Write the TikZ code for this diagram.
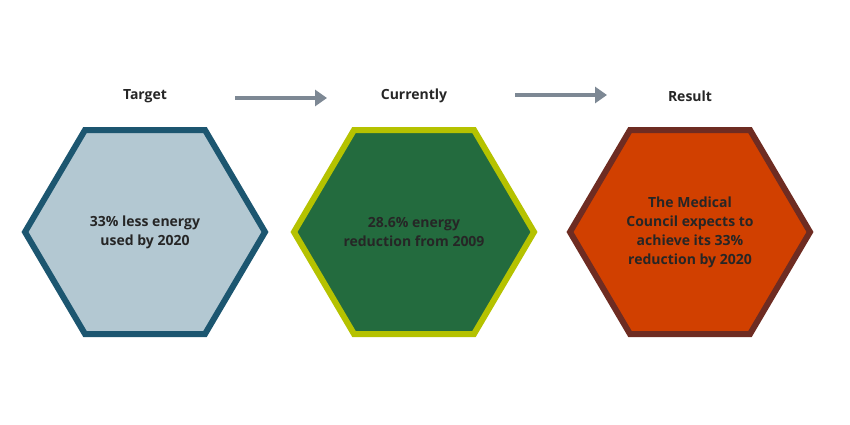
\documentclass[tikz,border=0pt]{standalone}
\usepackage{fontspec}
\setmainfont{Open Sans}
\usetikzlibrary{arrows.meta}
\definecolor{tfill}{HTML}{B3C8D2}
\definecolor{tline}{HTML}{1C5670}
\definecolor{cfill}{HTML}{236B3E}
\definecolor{cline}{HTML}{B5C200}
\definecolor{rfill}{HTML}{D14000}
\definecolor{rline}{HTML}{6E2C22}
\definecolor{arr}{HTML}{7D8894}
\begin{document}
\begin{tikzpicture}[x=1pt,y=-1pt,
  hexline/.style={line width=6pt,line join=miter},
  txt/.style={font=\bfseries\fontsize{14}{19}\selectfont,text=black!85,align=center},
  head/.style={font=\bfseries\fontsize{14}{17}\selectfont,text=black!85},
  link/.style={line width=4pt,draw=arr,-{Triangle[length=12pt,width=16pt]}}]
\useasboundingbox (0,0) rectangle (850,425);
\newcommand{\hexat}[3]{%
  \draw[hexline,draw=#2,fill=#3] (#1-120,232)--(#1-60,130)--(#1+60,130)--(#1+120,232)--(#1+60,334)--(#1-60,334)--cycle;}
\hexat{145}{tline}{tfill}
\hexat{414}{cline}{cfill}
\hexat{690}{rline}{rfill}
\node[txt] (t) at (145,232) {33\% less energy\\used by 2020};
\node[txt] (c) at (414,232) {28.6\% energy\\reduction from 2009};
\node[txt] (r) at (690,232) {The Medical\\Council expects to\\achieve its 33\%\\reduction by 2020};
\node[head] (ht) at (145,96) {Target};
\node[head] (hc) at (414,96) {Currently};
\node[head] (hr) at (690,96) {Result};
\coordinate (a1) at (235,98); \coordinate (a2) at (327,98);
\coordinate (b1) at (515,95); \coordinate (b2) at (607,95);
\draw[link] (a1)--(a2);
\draw[link] (b1)--(b2);
\end{tikzpicture}
\end{document}
